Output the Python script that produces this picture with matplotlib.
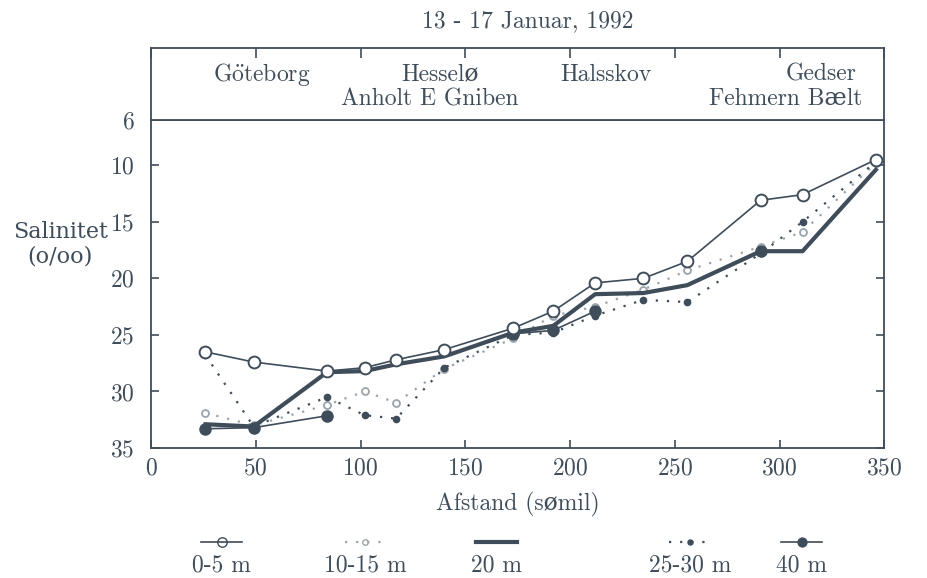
import numpy as np
import matplotlib
matplotlib.use("Agg")
import matplotlib.pyplot as plt
from matplotlib.lines import Line2D

plt.rcParams['font.family'] = ['cmr10', 'DejaVu Serif']
plt.rcParams['axes.formatter.use_mathtext'] = True
plt.rcParams['mathtext.fontset'] = 'cm'

INK = '#3f4d5a'
GREY = '#9aa4ad'
FS = 17

# station distances (sea miles) and salinity per depth
afstand = [26, 49, 84, 102, 117, 140, 173, 192, 212, 235, 256, 291, 311, 346]
sal_0_5 = [26.5, 27.4, 28.2, 27.9, 27.2, 26.3, 24.4, 22.9, 20.4, 20.0, 18.5, 13.1, 12.6, 9.5]
sal_10_15 = [31.9, 33.0, 31.2, 30.0, 31.0, 28.0, 25.3, 23.3, 22.5, 21.0, 19.3, 17.2, 15.9, 9.8]
sal_20 = [32.9, 33.1, 28.3, 28.2, 27.6, 26.9, 24.8, 24.2, 21.4, 21.3, 20.6, 17.6, 17.6, 10.4]
sal_25_30 = [26.8, 33.1, 30.5, 32.1, 32.4, 27.9, 25.0, 24.8, 23.3, 21.9, 22.1, 17.8, 15.0, 9.7]
sal_40 = [33.3, 33.2, 32.15, np.nan, np.nan, np.nan, 24.9, 24.6, 22.9, np.nan, np.nan, 17.6, np.nan, np.nan]

stations_top = [r"G$\mathrm{\ddot{o}}$teborg", "Hesselø", "Halsskov", "Gedser"]
stations_bottom = ["Anholt E Gniben", "Fehmern Bælt"]

yticks = [6, 10, 15, 20, 25, 30, 35]
xticks = [0, 50, 100, 150, 200, 250, 300, 350]

fig = plt.figure(figsize=(9.27, 5.78), dpi=100)
ax = fig.add_axes([0.1629, 0.2249, 0.791, 0.5675])
box = fig.add_axes([0.1629, 0.7924, 0.791, 0.125], sharex=ax)

dot = (0, (1, 4))
styles = {
    '0-5 m': dict(color=INK, lw=1.2, marker='o', ms=8.5, mfc='white', mec=INK, mew=1.4),
    '10-15 m': dict(color=GREY, lw=1.6, ls=dot, marker='o', ms=5, mfc='white', mec=GREY, mew=1.3),
    '20 m': dict(color=INK, lw=3.0),
    '25-30 m': dict(color=INK, lw=1.6, ls=dot, marker='o', ms=4.5, mfc=INK, mec=INK),
    '40 m': dict(color=INK, lw=1.2, marker='o', ms=8, mfc=INK, mec=INK),
}
series = {
    '0-5 m': sal_0_5,
    '10-15 m': sal_10_15,
    '20 m': sal_20,
    '25-30 m': sal_25_30,
    '40 m': sal_40,
}
order = ['10-15 m', '25-30 m', '20 m', '40 m', '0-5 m']
for name in order:
    ax.plot(afstand, series[name], **styles[name], zorder=3)

ax.set_xlim(0, 350)
ax.set_ylim(35, 6)
ax.set_xticks(xticks)
ax.set_yticks(yticks)
ax.tick_params(direction='in', length=6, width=1.2, colors=INK, labelsize=FS,
               right=True, top=False, pad=7)
ax.tick_params(axis='y', pad=12)
for s in ax.spines.values():
    s.set_color(INK)
    s.set_linewidth(1.3)
ax.set_xlabel("Afstand (sømil)", fontsize=FS, color=INK, labelpad=9)
fig.text(0.065, 0.577, "Salinitet\n(o/oo)", ha='center', va='center', fontsize=16,
         color=INK, linespacing=1.15, family=['DejaVu Serif'])

# station names box
box.set_ylim(0, 1)
box.tick_params(axis='x', direction='in', length=7, width=1.2, colors=INK,
                top=True, bottom=False, labelbottom=False)
box.set_yticks([])
for s in box.spines.values():
    s.set_color(INK)
    s.set_linewidth(1.3)
top_x = [53, 138, 217, 320]
for name, xpos in zip(stations_top, top_x):
    box.text(xpos, 0.63, name, ha='center', va='center', fontsize=FS, color=INK)
bottom_x = [133, 303]
for name, xpos in zip(stations_bottom, bottom_x):
    box.text(xpos, 0.29, name, ha='center', va='center', fontsize=FS, color=INK)

fig.text(0.569, 0.963, "13 - 17 Januar, 1992", ha='center', va='center', fontsize=FS, color=INK)

# legend: sample line above each label
leg_x = [0.239, 0.394, 0.536, 0.744, 0.865]
for name, lx in zip(['0-5 m', '10-15 m', '20 m', '25-30 m', '40 m'], leg_x):
    st = dict(styles[name])
    handle = Line2D([lx - 0.022, lx + 0.022], [0.062, 0.062], transform=fig.transFigure, **st)
    if 'marker' in st:
        handle.set_markevery([])
        fig.lines.append(Line2D([lx], [0.062], transform=fig.transFigure,
                                marker=st['marker'], ms=st['ms'] * 0.8, mfc=st['mfc'],
                                mec=st['mec'], ls='none'))
    fig.lines.append(handle)
    fig.text(lx, 0.022, name, ha='center', va='center', fontsize=FS, color=INK)

fig.savefig("out.png", dpi=100)
